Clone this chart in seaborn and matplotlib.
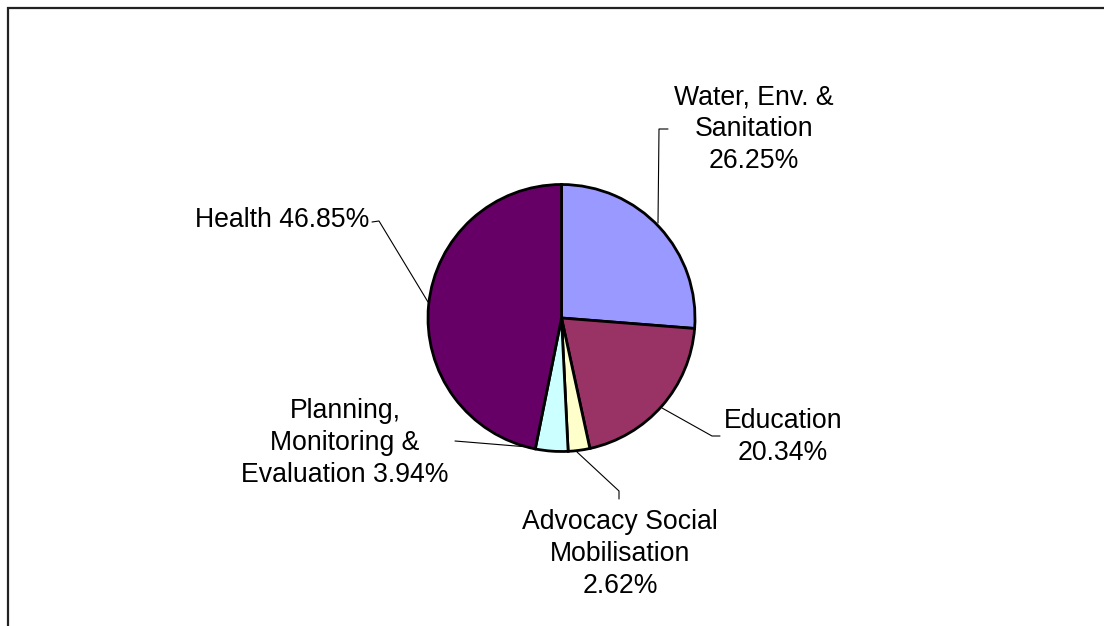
import matplotlib
matplotlib.use("Agg")
import matplotlib.pyplot as plt
import seaborn as sns
from matplotlib.patches import Rectangle

# Budget share by programme area (percent)
categories = ["Water, Env. &\nSanitation", "Education", "Advocacy Social\nMobilisation",
              "Planning,\nMonitoring &\nEvaluation", "Health"]
shares = [26.25, 20.34, 2.62, 3.94, 46.85]
colors = ["#9999FF", "#993366", "#FFFFCC", "#CCFFFF", "#660066"]

sns.set_theme(style="white")
plt.rcParams["font.family"] = ["Liberation Sans", "DejaVu Sans"]

W, H = 1104, 626
fig = plt.figure(figsize=(W / 100, H / 100), dpi=100)
fig.patch.set_facecolor("white")
ax = fig.add_axes([0, 0, 1, 1])


def py(y):
    return H - y


# chart-area frame (runs off the right and bottom edges)
fig.patches.append(Rectangle((7.5 / W, -0.1), 1.2, (H - 7.5) / H + 0.1,
                             transform=fig.transFigure, fill=False,
                             edgecolor="#222222", linewidth=1.6, zorder=5))

ax.pie(shares, colors=sns.color_palette(colors), startangle=90, counterclock=False,
       center=(561.5, py(318)), radius=133.5, frame=True,
       wedgeprops=dict(edgecolor="black", linewidth=2.0))
ax.set_xlim(0, W)
ax.set_ylim(0, H)
ax.set_aspect("equal")
ax.axis("off")


def label_text(name, value, sep):
    return f"{name}{sep}{value:.2f}%"


text_kw = dict(fontsize=19.2, color="black", linespacing=1.29)
lead_kw = dict(color="black", lw=0.8)

# Water, Env. & Sanitation
ax.text(754, py(129), label_text(categories[0], shares[0], "\n"), ha="center", va="center", **text_kw)
ax.plot([668, 659, 658], [py(129), py(129), py(223)], **lead_kw)

# Education
ax.text(783, py(437), label_text(categories[1], shares[1], "\n"), ha="center", va="center", **text_kw)
ax.plot([662, 712, 720], [py(408), py(436), py(436)], **lead_kw)

# Advocacy Social Mobilisation
ax.text(620, py(554), label_text(categories[2], shares[2], "\n"), ha="center", va="center", **text_kw)
ax.plot([577, 619, 619], [py(452), py(491), py(499)], **lead_kw)

# Planning, Monitoring & Evaluation
ax.text(345, py(443), label_text(categories[3], shares[3], " "), ha="center", va="center", **text_kw)
ax.plot([455, 528], [py(441), py(447)], **lead_kw)

# Health
ax.text(369, py(220), label_text(categories[4], shares[4], " "), ha="right", va="center", **text_kw)
ax.plot([372, 379, 428], [py(222), py(221), py(302)], **lead_kw)

fig.savefig("out.png", dpi=100, facecolor="white")
